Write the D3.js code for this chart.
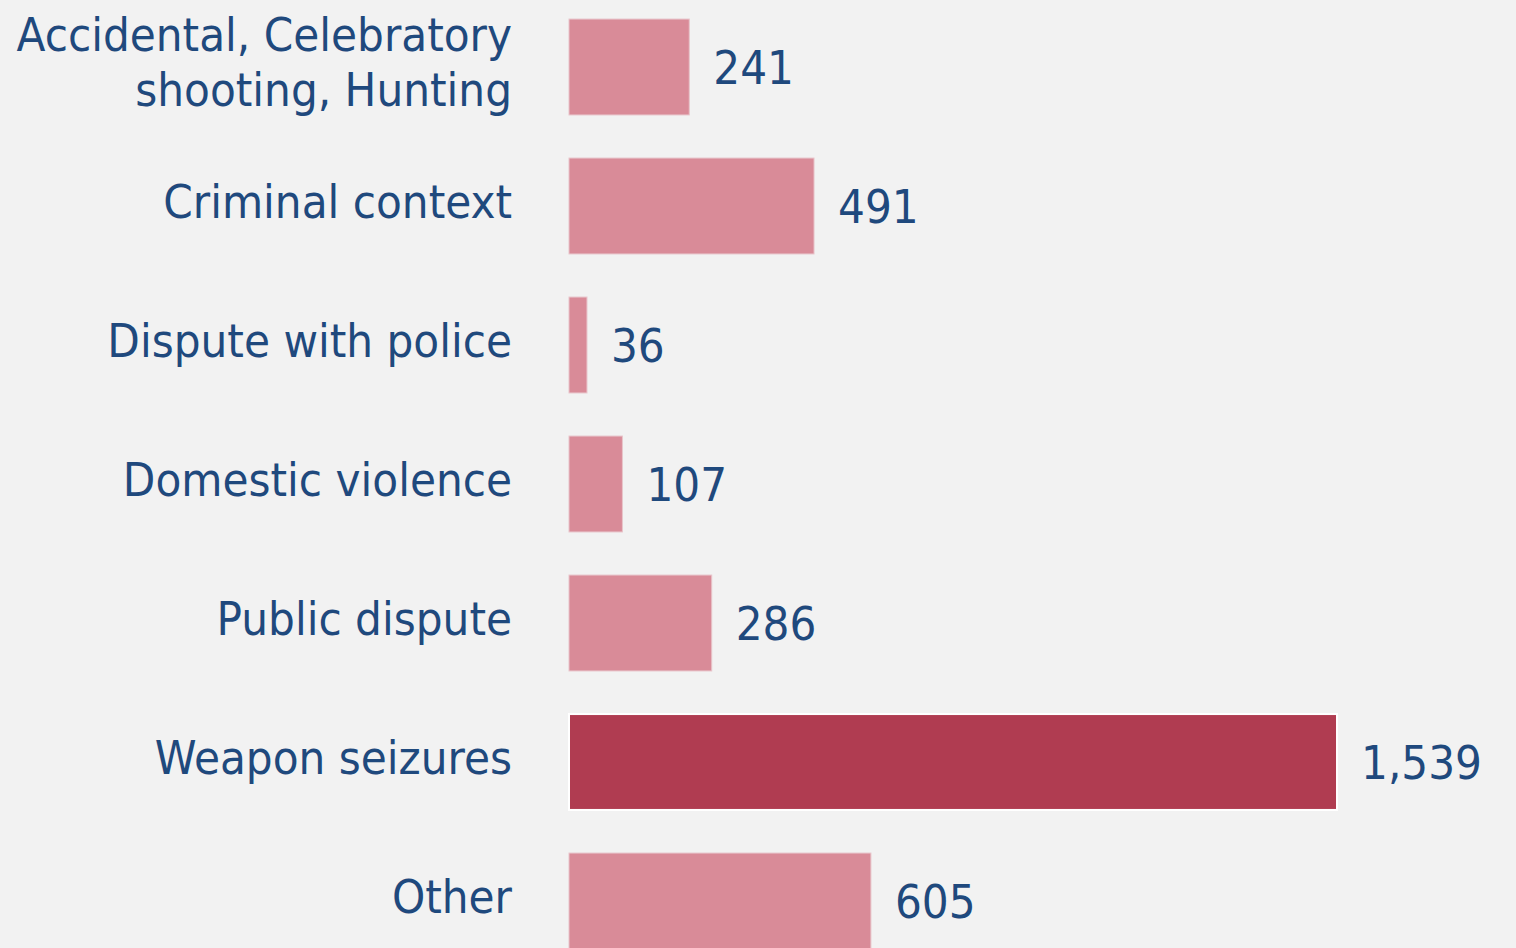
<!DOCTYPE html>
<html>
<head>
<meta charset="utf-8">
<script src="https://cdn.jsdelivr.net/npm/d3@7"></script>
<style>
  html, body { margin: 0; padding: 0; background: #F2F2F2; }
  svg { display: block; }
  text { font-family: "DejaVu Sans Condensed", "DejaVu Sans", sans-serif; font-stretch: condensed; fill: #1F497D; }
</style>
</head>
<body>
<svg id="chart" width="1516" height="948"></svg>
<script>
const categories = [
  ["Accidental, Celebratory", "shooting, Hunting"],
  ["Criminal context"],
  ["Dispute with police"],
  ["Domestic violence"],
  ["Public dispute"],
  ["Weapon seizures"],
  ["Other"]
];
const values = [241, 491, 36, 107, 286, 1539, 605];
const highlight = [false, false, false, false, false, true, false];

const W = 1516, H = 948;
const fontSize = 47;
const squeeze = 1.0;

const svg = d3.select("#chart");
svg.append("rect").attr("width", W).attr("height", H).attr("fill", "#F2F2F2");

const keys = categories.map((c, i) => i);
const y = d3.scaleBand().domain(keys).range([-2.5, 970.5]).paddingInner(0.31).paddingOuter(0.155);
const x = d3.scaleLinear().domain([0, 1539]).range([569, 1337]);

const g = svg.append("g");

g.selectAll("rect.bar").data(values).join("rect")
  .attr("class", "bar")
  .attr("x", x(0))
  .attr("y", (d, i) => y(i))
  .attr("width", d => x(d) - x(0))
  .attr("height", y.bandwidth())
  .attr("fill", (d, i) => highlight[i] ? "#B03C51" : "#D98B98")
  .attr("stroke", (d, i) => highlight[i] ? "#FFFFFF" : "#E8C4CA")
  .attr("stroke-width", (d, i) => highlight[i] ? 2 : 1);

const fmt = d3.format(",");
g.selectAll("text.val").data(values).join("text")
  .attr("class", "val")
  .attr("transform", (d, i) => `translate(${x(d) + 24},${y(i) + y.bandwidth() / 2}) scale(${squeeze},1)`)
  .attr("dy", "0.36em")
  .attr("font-size", fontSize)
  .text(d => fmt(d));

const labels = g.selectAll("text.cat").data(categories).join("text")
  .attr("class", "cat")
  .attr("text-anchor", "end")
  .attr("font-size", fontSize)
  .attr("transform", (d, i) => `translate(512,${y(i) + y.bandwidth() / 2 - 5}) scale(${squeeze},1)`);

labels.each(function(lines) {
  const t = d3.select(this);
  const lh = 55;
  const off = -(lines.length - 1) * lh / 2;
  lines.forEach((ln, j) => {
    t.append("tspan").attr("x", 0).attr("y", off + j * lh).attr("dy", "0.36em").text(ln);
  });
});
</script>
</body>
</html>
